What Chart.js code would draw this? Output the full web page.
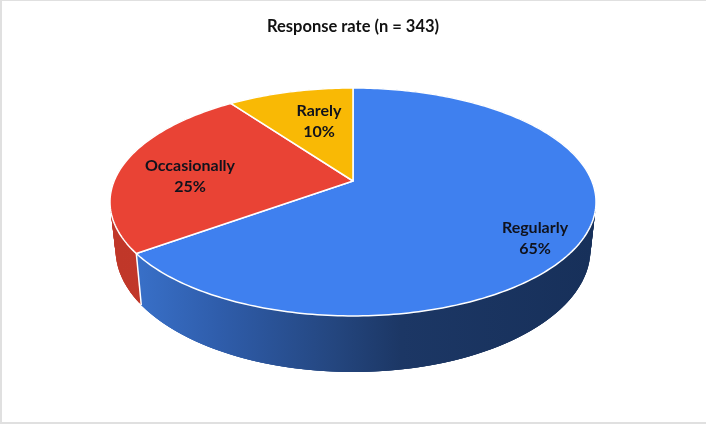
<!DOCTYPE html>
<html>
<head>
<meta charset="utf-8">
<title>Response rate</title>
<script src="https://cdn.jsdelivr.net/npm/chart.js@4"></script>
<style>
  html, body { margin: 0; padding: 0; background: #fff; overflow: hidden; }
  #wrap { position: relative; width: 706px; height: 424px; }
  #wrap canvas { display: block; }
  #frame {
    position: absolute; left: 0; top: 0; right: 0; bottom: 0;
    border-top: 1px solid #e0e0e0;
    border-left: 2px solid #e0e0e0;
    border-bottom: 2px solid #e0e0e0;
    pointer-events: none;
  }
</style>
</head>
<body>
<div id="wrap">
  <canvas id="responseChart" width="706" height="424"></canvas>
  <div id="frame"></div>
</div>
<script>
  const categories = ["Regularly", "Occasionally", "Rarely"];
  const shares = [65, 25, 10];

  const topColors = ["#3F80EF", "#E94335", "#F9B905"];
  // gradient stops for the rim of each slice, left to right
  const rimColors = [
    [[0, "#3B75D0"], [0.22, "#2F5DAB"], [0.46, "#24467F"], [0.6, "#1C3765"], [1, "#17305A"]],
    [[0, "#C03729"], [1, "#CC3B2C"]],
    [[0, "#B98A04"], [1, "#B98A04"]],
  ];

  // label centres, px away from the pie centre
  const labelOffsets = [[182, 57], [-163, -5], [-34, -60]];

  const DEG_STEP = Math.PI / 180;

  // perspective disc: tilt pushes the front edge down and the back edge up
  const tilt = 0.184;
  const topFace = { scaleX: 1.974, scaleY: 0.91, drop: 0 };
  const bottomFace = { scaleX: 1.929, scaleY: 0.978, drop: 46 };

  function project(arc, face, angle) {
    const u = Math.cos(angle);
    const v = Math.sin(angle);
    const w = 1 - tilt * v;
    return {
      x: arc.x + (arc.outerRadius * face.scaleX * u) / w,
      y: arc.y + face.drop + (arc.outerRadius * face.scaleY * v) / w,
    };
  }

  function sliceAngles(arc) {
    const angles = [];
    const steps = Math.ceil((arc.endAngle - arc.startAngle) / DEG_STEP);
    for (let i = 0; i <= steps; i++) {
      angles.push(arc.startAngle + ((arc.endAngle - arc.startAngle) * i) / steps);
    }
    return angles;
  }

  const pie3d = {
    id: "pie3d",
    beforeDatasetDraw(chart) {
      const ctx = chart.ctx;
      const arcs = chart.getDatasetMeta(0).data;
      const first = arcs[0];
      const left = first.x - first.outerRadius * topFace.scaleX;
      const right = first.x + first.outerRadius * topFace.scaleX;

      ctx.save();
      ctx.lineJoin = "round";

      // rim as overlapping quads so no seams show, the top face covers the hidden part
      arcs.forEach((arc, i) => {
        const grad = ctx.createLinearGradient(left, 0, right, 0);
        rimColors[i].forEach(([stop, color]) => grad.addColorStop(stop, color));
        ctx.fillStyle = grad;
        const angles = sliceAngles(arc);
        for (let n = 0; n < angles.length - 1; n++) {
          const next = angles[Math.min(n + 3, angles.length - 1)];
          const a = project(arc, topFace, angles[n]);
          const b = project(arc, topFace, next);
          const c = project(arc, bottomFace, next);
          const d = project(arc, bottomFace, angles[n]);
          ctx.beginPath();
          ctx.moveTo(a.x, a.y);
          ctx.lineTo(b.x, b.y);
          ctx.lineTo(c.x, c.y);
          ctx.lineTo(d.x, d.y);
          ctx.closePath();
          ctx.fill();
        }
      });

      // seams on the rim
      ctx.strokeStyle = "#fff";
      ctx.lineWidth = 1.5;
      arcs.forEach((arc) => {
        const a = project(arc, topFace, arc.startAngle);
        const b = project(arc, bottomFace, arc.startAngle);
        ctx.beginPath();
        ctx.moveTo(a.x, a.y);
        ctx.lineTo(b.x, b.y);
        ctx.stroke();
      });

      // top face
      arcs.forEach((arc, i) => {
        ctx.beginPath();
        ctx.moveTo(arc.x, arc.y);
        sliceAngles(arc).forEach((angle) => {
          const p = project(arc, topFace, angle);
          ctx.lineTo(p.x, p.y);
        });
        ctx.closePath();
        ctx.fillStyle = topColors[i];
        ctx.fill();
        ctx.stroke();
      });
      ctx.restore();
      return false;
    },
    afterDatasetsDraw(chart) {
      const ctx = chart.ctx;
      const arcs = chart.getDatasetMeta(0).data;
      ctx.save();
      ctx.font = "bold 16px Lato";
      ctx.fillStyle = "#10121c";
      ctx.textAlign = "center";
      ctx.textBaseline = "middle";
      arcs.forEach((arc, i) => {
        const x = arc.x + labelOffsets[i][0];
        const y = arc.y + labelOffsets[i][1];
        ctx.fillText(categories[i], x, y - 10.5);
        ctx.fillText(shares[i] + "%", x, y + 10.5);
      });
      ctx.restore();
    },
  };

  new Chart(document.getElementById("responseChart").getContext("2d"), {
    type: "pie",
    data: {
      labels: categories,
      datasets: [
        {
          data: shares,
          backgroundColor: topColors,
          borderWidth: 0,
        },
      ],
    },
    options: {
      responsive: false,
      animation: false,
      layout: {
        padding: { bottom: 122 },
      },
      plugins: {
        legend: { display: false },
        tooltip: { enabled: false },
        title: {
          display: true,
          text: "Response rate (n = 343)",
          color: "#111",
          font: { family: "Lato", size: 16.5, weight: "bold" },
          padding: { top: 17, bottom: 23.2 },
        },
      },
    },
    plugins: [pie3d],
  });
</script>
</body>
</html>
